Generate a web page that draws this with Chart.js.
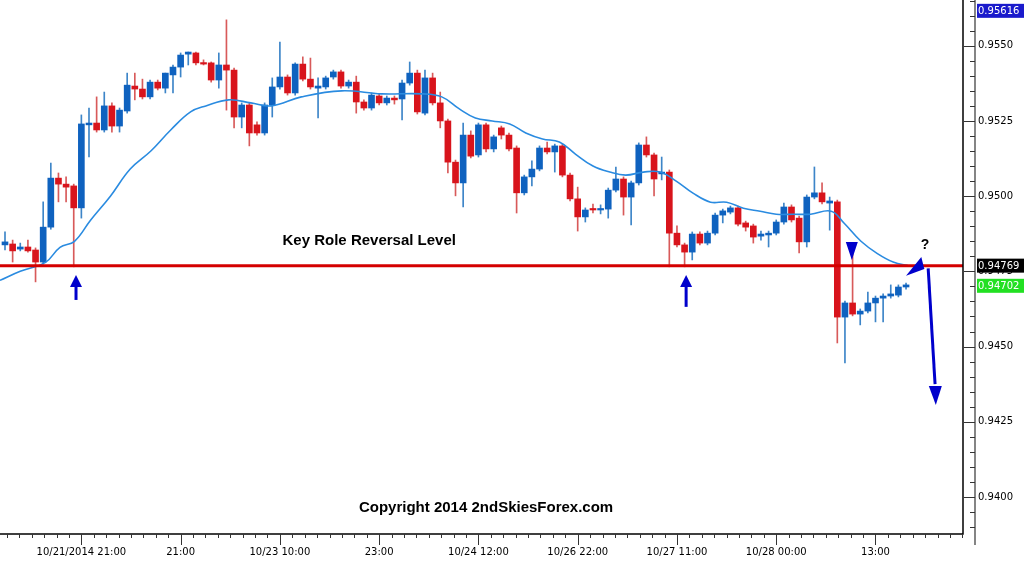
<!DOCTYPE html>
<html><head><meta charset="utf-8">
<script src="https://cdn.jsdelivr.net/npm/chart.js@4"></script>
<style>html,body{margin:0;padding:0;background:#fff}#c{display:block}</style>
</head><body>
<div style="width:1024px;height:564px"><canvas id="c" width="1024" height="564"></canvas></div>
<script>
const opens=[.94838,.94841,.94824,.94831,.94821,.94781,.94897,.95060,.95040,.95034,.94961,.95237,.95243,.95220,.95300,.95233,.95283,.95366,.95356,.95330,.95379,.95359,.95403,.95429,.95472,.95476,.95443,.95443,.95386,.95436,.95419,.95263,.95303,.95237,.95210,.95303,.95363,.95396,.95343,.95439,.95389,.95359,.95363,.95396,.95413,.95366,.95379,.95313,.95293,.95333,.95310,.95326,.95323,.95376,.95409,.95276,.95393,.95310,.95250,.95113,.95044,.95203,.95137,.95237,.95157,.95227,.95203,.95160,.95011,.95064,.95090,.95160,.95147,.95167,.95070,.94991,.94931,.94957,.94954,.94957,.95020,.95057,.94997,.95044,.95170,.95137,.95074,.95080,.94877,.94838,.94814,.94874,.94844,.94877,.94937,.94947,.94961,.94911,.94901,.94867,.94871,.94877,.94914,.94964,.94927,.94848,.94997,.95011,.94977,.94981,.94598,.94645,.94608,.94618,.94645,.94661,.94668,.94671,.94698];
const highs=[.94881,.94854,.94844,.94854,.94828,.94981,.95110,.95077,.95064,.95040,.95270,.95293,.95330,.95346,.95310,.95293,.95409,.95409,.95389,.95386,.95386,.95409,.95436,.95476,.95479,.95479,.95453,.95446,.95476,.95586,.95426,.95310,.95310,.95247,.95310,.95393,.95512,.95403,.95443,.95463,.95459,.95393,.95399,.95419,.95419,.95386,.95399,.95320,.95343,.95340,.95333,.95333,.95386,.95446,.95419,.95419,.95409,.95346,.95256,.95120,.95243,.95217,.95243,.95243,.95203,.95233,.95210,.95167,.95070,.95117,.95167,.95180,.95173,.95173,.95077,.95030,.94961,.94974,.94971,.95027,.95097,.95064,.95050,.95177,.95197,.95143,.95130,.95087,.94901,.94844,.94881,.94881,.94884,.94944,.94957,.94967,.94967,.94917,.94907,.94884,.94884,.94921,.94977,.94971,.94934,.95004,.95097,.95044,.94997,.94987,.94651,.94811,.94625,.94681,.94668,.94675,.94705,.94705,.94711];
const lows=[.94821,.94781,.94818,.94814,.94715,.94774,.94890,.94981,.94981,.94765,.94927,.95130,.95213,.95213,.95213,.95213,.95276,.95320,.95323,.95323,.95353,.95343,.95343,.95396,.95436,.95436,.95436,.95379,.95359,.95286,.95227,.95227,.95167,.95203,.95203,.95263,.95356,.95336,.95336,.95383,.95356,.95260,.95356,.95389,.95359,.95359,.95276,.95286,.95286,.95303,.95303,.95306,.95253,.95369,.95273,.95270,.95303,.95227,.95077,.95001,.94964,.95127,.95130,.95147,.95147,.95190,.95150,.94944,.95004,.95034,.95084,.95140,.95080,.95064,.94984,.94884,.94914,.94944,.94941,.94927,.95014,.94937,.94904,.95037,.95130,.95001,.95054,.94765,.94831,.94765,.94788,.94838,.94838,.94871,.94911,.94941,.94901,.94884,.94844,.94854,.94831,.94871,.94907,.94914,.94811,.94831,.94991,.94974,.94887,.94512,.94446,.94602,.94572,.94612,.94582,.94582,.94661,.94665,.94691];
const closes=[.94848,.94818,.94831,.94818,.94781,.94897,.95060,.95040,.95030,.94961,.95240,.95243,.95220,.95300,.95233,.95286,.95369,.95356,.95330,.95379,.95359,.95409,.95429,.95469,.95479,.95443,.95439,.95386,.95436,.95419,.95263,.95303,.95210,.95210,.95303,.95363,.95396,.95343,.95439,.95389,.95363,.95366,.95393,.95413,.95366,.95379,.95313,.95293,.95336,.95310,.95326,.95320,.95376,.95409,.95280,.95393,.95310,.95250,.95113,.95044,.95203,.95133,.95237,.95157,.95197,.95203,.95157,.95011,.95064,.95090,.95160,.95147,.95167,.95070,.94991,.94931,.94954,.94954,.94957,.95020,.95057,.94997,.95044,.95170,.95137,.95057,.95080,.94877,.94838,.94814,.94874,.94844,.94877,.94937,.94951,.94961,.94907,.94897,.94864,.94874,.94877,.94914,.94964,.94921,.94848,.94997,.95011,.94981,.94984,.94598,.94645,.94608,.94618,.94645,.94661,.94668,.94675,.94698,.94705];
const maIdx=[-0.66,2,5.3,7.2,9.1,11.2,13.8,16.4,19.1,21.7,24.3,26.3,29.3,32.2,34.9,38.8,44.1,49.3,54.6,57.2,59.5,61.6,63.8,66.1,68.2,70.4,72.6,74.7,77,79.2,81.3,83.6,85.8,87.9,90.1,92.4,94.5,96.7,98.9,101,103.3,105.5,108.2,109.9,112.1,114.2,116.4,118.2];
const maVal=[.9472,.9475,.9478,.9483,.9485,.9492,.9500,.9509,.9515,.9522,.9528,.9530,.9532,.9531,.9530,.9533,.9535,.9534,.9534,.9533,.9529,.9526,.9525,.9524,.9521,.9519,.9518,.9514,.9510,.9508,.9507,.9508,.9508,.9505,.9501,.9498,.9498,.9496,.9495,.9494,.9494,.9494,.9495,.9491,.9485,.9481,.9478,.9477];
const xTickIdx=[10,23,36,49,62,75,88,101,114];
const xTickLabels=['10/21/2014 21:00','21:00','10/23 10:00','23:00','10/24 12:00','10/26 22:00','10/27 11:00','10/28 00:00','13:00'];
const levelPrice=0.94769, highPrice=0.95616, lastPrice=0.94702;

const RED='#d8141c', BLUE='#0f62bf';
const col=opens.map((o,i)=>closes[i]<o?RED:BLUE);
const wickCol=opens.map((o,i)=>closes[i]<o?'#d85a5a':'#3d85c8');
const FONT='"DejaVu Sans", Verdana, sans-serif';

const deco={id:'deco',
 afterLayout(ch){
  const y=ch.scales.y;
  if(ch.chartArea.top!==0){ch.chartArea.top=0;y.top=0;y.height=y.bottom;y.configure();}
 },
 afterDatasetsDraw(ch){
  const c=ch.ctx,x=ch.scales.x,y=ch.scales.y,a=ch.chartArea;
  const X=v=>x.getPixelForValue(v),Y=v=>y.getPixelForValue(v);
  c.save();
  c.strokeStyle='#d40000';c.lineWidth=3;c.beginPath();c.moveTo(a.left,Y(levelPrice));c.lineTo(a.right,Y(levelPrice));c.stroke();
  c.fillStyle='#0000cc';c.strokeStyle='#0000cc';
  const upArrow=(i,tip,tail)=>{const px=X(i),t=Y(tip),b=Y(tail);
    c.lineWidth=3;c.beginPath();c.moveTo(px,t+8);c.lineTo(px,b);c.stroke();
    c.beginPath();c.moveTo(px,t);c.lineTo(px-6,t+12);c.lineTo(px+6,t+12);c.closePath();c.fill();};
  upArrow(9.3,.94738,.94655);upArrow(89.2,.94738,.94632);
  let px=X(110.9);c.beginPath();c.moveTo(px-6,Y(.94848));c.lineTo(px+6,Y(.94848));c.lineTo(px,Y(.94788));c.closePath();c.fill();
  c.beginPath();c.moveTo(X(118.0),Y(.94735));c.lineTo(X(120.0),Y(.94798));c.lineTo(X(120.4),Y(.94758));c.closePath();c.fill();
  c.lineWidth=3;c.beginPath();c.moveTo(X(120.9),Y(.94760));c.lineTo(X(121.8),Y(.94375));c.stroke();
  const hx=X(121.9),hy=Y(.94306);c.beginPath();c.moveTo(hx,hy);c.lineTo(hx-7,hy-19);c.lineTo(hx+6,hy-19);c.closePath();c.fill();
  c.fillStyle='#000';c.textAlign='center';c.textBaseline='middle';
  c.font='bold 14px "Liberation Sans", Arial, sans-serif';
  c.fillText('?',X(120.5),Y(.94838));
  c.font='bold 15px "Liberation Sans", Arial, sans-serif';
  c.fillText('Key Role Reversal Level',X(47.7),Y(.94851));
  c.fillText('Copyright 2014 2ndSkiesForex.com',X(63.0),Y(.93963));
  c.restore();
 },
 afterDraw(ch){
  const c=ch.ctx,x=ch.scales.x,y=ch.scales.y,a=ch.chartArea;
  const Y=v=>y.getPixelForValue(v);
  c.save();c.strokeStyle='#000';c.lineWidth=1.5;
  c.beginPath();c.moveTo(a.right,0);c.lineTo(a.right,a.bottom);c.lineTo(0,a.bottom);c.stroke();
  c.lineWidth=1.2;c.strokeStyle='#333';
  c.beginPath();c.moveTo(a.right+12,0);c.lineTo(a.right+12,a.bottom+11);c.stroke();
  c.lineWidth=1;c.beginPath();
  for(let v=0.9390;v<=0.9566;v+=0.0005){const py=Math.round(Y(v))+0.5;if(py<0||py>a.bottom)continue;
    const major=Math.abs(Math.round(v*10000)%25)<0.5;c.moveTo(a.right+12,py);c.lineTo(a.right+(major?1:7),py);}
  for(let i=0;i<90;i++){const v=10-13+i*13/8;const px=Math.round(x.getPixelForValue(v))+0.5;if(px<0||px>a.right)continue;
    const major=i%8===0;c.moveTo(px,a.bottom);c.lineTo(px,a.bottom+(major?11:4));}
  c.stroke();
  const box=(v,bg,fg)=>{const py=Y(v);c.fillStyle=bg;c.fillRect(a.right+14,py-7,48,14);c.fillStyle=fg;
    c.font='10px '+FONT;c.textAlign='left';c.textBaseline='middle';c.fillText(v.toFixed(5),a.right+15,py+0.5);};
  box(highPrice,'#1a1acc','#fff');box(levelPrice,'#000','#fff');box(lastPrice,'#22e022','#fff');
  c.restore();
 }};

new Chart(document.getElementById('c'),{
 type:'bar',
 data:{datasets:[
  {type:'line',data:maIdx.map((v,i)=>({x:v,y:maVal[i]})),borderColor:'#2a8be0',borderWidth:1.6,pointRadius:0,tension:0.4,order:0},
  {data:opens.map((o,i)=>({x:i,y:[lows[i],highs[i]]})),backgroundColor:wickCol,barThickness:1,grouped:false,order:2},
  {data:opens.map((o,i)=>({x:i,y:[o,closes[i]]})),backgroundColor:col,barThickness:6,minBarLength:1.5,grouped:false,order:1}
 ]},
 options:{responsive:false,animation:false,layout:{padding:0},
  plugins:{legend:{display:false},tooltip:{enabled:false}},
  scales:{
   x:{type:'linear',min:-0.655,max:125.46,offset:false,
     afterBuildTicks:s=>{s.ticks=xTickIdx.map(v=>({value:v}));},
     afterFit:s=>{s.height=30;},
     grid:{display:false,drawTicks:false},border:{display:false},
     ticks:{padding:12,autoSkip:false,maxRotation:0,color:'#000',font:{family:FONT,size:10},
       callback:(v)=>{const k=xTickIdx.indexOf(v);return k>=0?xTickLabels[k]:'';}}},
   y:{position:'right',min:0.93877,max:0.95652,
     afterBuildTicks:s=>{const t=[];for(let v=0.9400;v<=0.9551;v+=0.0025)t.push({value:+v.toFixed(4)});s.ticks=t;},
     afterFit:s=>{s.width=61;},
     grid:{display:false,drawTicks:false},border:{display:false},
     ticks:{padding:15,color:'#000',font:{family:FONT,size:10},callback:v=>(+v).toFixed(4)}}
  }},
 plugins:[deco]
});
</script></body></html>
